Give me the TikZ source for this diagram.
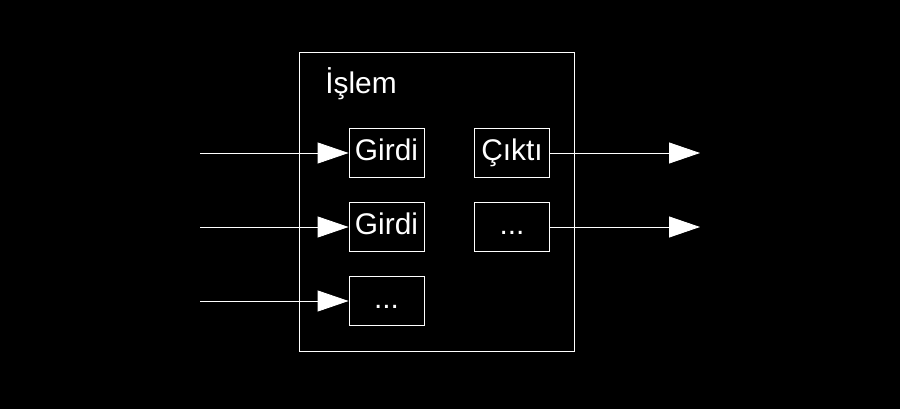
\documentclass[tikz,border=0pt]{standalone}
\usepackage{fontspec}
\setmainfont{Liberation Sans}
\usetikzlibrary{arrows.meta}
\tikzset{
  kutu/.style={draw=white, line width=.5pt, minimum width=1.5cm, minimum height=.98cm, inner sep=0pt, text height=12.5pt, text depth=3.5pt},
  ok/.style={-{Triangle[length=.62cm, width=.42cm]}, white, line width=.5pt}
}
\begin{document}
\begin{tikzpicture}[x=.02cm, y=-.02cm, font=\fontsize{17}{20}\selectfont, text=white]
    
    \fill[black] (0,0) rectangle (900,409);
    \useasboundingbox (0,0) rectangle (900,409);
    
    \draw[white, line width=.5pt] (299,52) rectangle (574,351);
    \node (islem) at (361,84) {İşlem};
    
    \node[kutu] (g1) at (386.5,153) {Girdi};
    \node[kutu] (g2) at (386.5,227) {Girdi};
    \node[kutu] (g3) at (386.5,301) {...};
    \node[kutu] (c1) at (512,153) {Çıktı};
    \node[kutu] (c2) at (512,227) {...};
    
    \coordinate (a1) at (200,153);
    \coordinate (a2) at (200,227);
    \coordinate (a3) at (200,301);
    \coordinate (b1) at (700,153);
    \coordinate (b2) at (700,227);
    
    \draw[ok] (a1)--(g1);
    \draw[ok] (a2)--(g2);
    \draw[ok] (a3)--(g3);
    \draw[ok] (c1)--(b1);
    \draw[ok] (c2)--(b2);
    
\end{tikzpicture}
\end{document}
